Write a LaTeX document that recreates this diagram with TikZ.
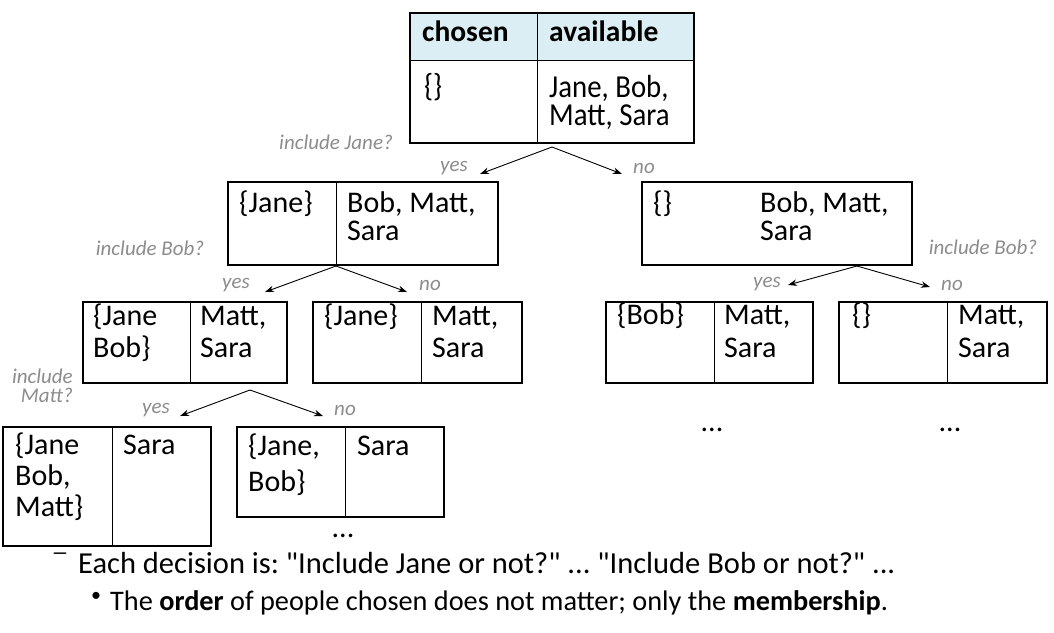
\documentclass[tikz,border=0pt]{standalone}
\usepackage{fontspec}
\setmainfont{Carlito}[Ligatures=TeXOff]
\newfontfamily\tallfont{Carlito}[FakeStretch=0.9,Ligatures=TeXOff]
\usetikzlibrary{arrows.meta}
\definecolor{headfill}{HTML}{DAEEF3}
\definecolor{lblgray}{HTML}{8C8C8C}
\begin{document}
\frenchspacing
\begin{tikzpicture}[x=1pt,y=-1pt,
  boxnode/.style={draw=black, line width=1.4pt, inner sep=0pt, outer sep=0pt, anchor=north west},
  divline/.style={line width=0.9pt},
  txt/.style={anchor=base west, inner sep=0pt, align=left, font=\fontsize{30}{28}\selectfont},
  txtb/.style={anchor=base west, inner sep=0pt, font=\bfseries\fontsize{29.5}{28}\selectfont},
  txttall/.style={anchor=base west, inner sep=0pt, align=left, font=\tallfont\fontsize{32}{28}\selectfont},
  lbl/.style={inner sep=0pt, text=lblgray, font=\itshape\fontsize{21}{19}\selectfont},
  conn/.style={line width=0.9pt, -{Stealth[length=9pt,width=6.5pt]}},
  dots/.style={inner sep=0pt, font=\fontsize{30}{30}\selectfont}]
\useasboundingbox (0,0) rectangle (1054,632);

% multi-line nodes are placed by the baseline of their LAST line

% ---------- top box ----------
\fill[headfill] (410,13) rectangle (694,60);
\node[boxnode, minimum width=284pt, minimum height=130pt] (T) at (410,13) {};
\draw[divline] (410,60) -- (694,60);
\draw[divline] (537,13) -- (537,143);
\node[txtb] (Th1) at (422,41) {chosen};
\node[txtb] (Th2) at (549,41) {available};
\node[txttall] (Tc) at (424,96) {\{\}};
\node[txttall] (Ta) at (549,125) {Jane, Bob,\\Matt, Sara};

% ---------- level 1 ----------
\node[boxnode, minimum width=270pt, minimum height=83pt] (A) at (228,182) {};
\draw[divline] (336,182) -- (336,265);
\node[txt] (Ac) at (239,212) {\{Jane\}};
\node[txt] (Aa) at (347,240) {Bob, Matt,\\Sara};

\node[boxnode, minimum width=270pt, minimum height=83pt] (B) at (642,182) {};
\node[txt] (Bc) at (653,212) {\{\}};
\node[txt] (Ba) at (760,240) {Bob, Matt,\\Sara};

% ---------- level 2 ----------
\node[boxnode, minimum width=204pt, minimum height=81pt] (C) at (83,302) {};
\draw[divline] (190,302) -- (190,383);
\node[txt, font=\fontsize{30}{32}\selectfont] (Cc) at (93,357) {\{Jane\\Bob\}};
\node[txt, font=\fontsize{30}{32}\selectfont] (Ca) at (200,357) {Matt,\\Sara};

\node[boxnode, minimum width=209pt, minimum height=81pt] (D) at (313,302) {};
\draw[divline] (421,302) -- (421,383);
\node[txt] (Dc) at (324,325) {\{Jane\}};
\node[txt, font=\fontsize{30}{32}\selectfont] (Da) at (432,357) {Matt,\\Sara};

\node[boxnode, minimum width=207pt, minimum height=81pt] (E) at (606,302) {};
\draw[divline] (714,302) -- (714,383);
\node[txt] (Ec) at (617,324) {\{Bob\}};
\node[txt, font=\fontsize{30}{33}\selectfont] (Ea) at (724,357) {Matt,\\Sara};

\node[boxnode, minimum width=208pt, minimum height=81pt] (F) at (839,302) {};
\draw[divline] (947,302) -- (947,383);
\node[txt] (Fc) at (852,324) {\{\}};
\node[txt, font=\fontsize{30}{33}\selectfont] (Fa) at (958,357) {Matt,\\Sara};

% ---------- level 3 ----------
\node[boxnode, minimum width=208pt, minimum height=119pt] (G) at (3,427) {};
\draw[divline] (112,427) -- (112,546);
\node[txt, font=\fontsize{30}{31}\selectfont] (Gc) at (15,516) {\{Jane\\Bob,\\Matt\}};
\node[txt] (Ga) at (123,454) {Sara};

\node[boxnode, minimum width=207pt, minimum height=90pt] (H) at (237,427) {};
\draw[divline] (345,427) -- (345,517);
\node[txt, font=\fontsize{30}{36}\selectfont] (Hc) at (248,491) {\{Jane,\\Bob\}};
\node[txt] (Ha) at (357,455) {Sara};

% ---------- connectors ----------
\coordinate (Tx) at (552,147);
\coordinate (Ty) at (480,174);
\coordinate (Tn) at (622,174);
\draw[conn] (Tx) -- (Ty);
\draw[conn] (Tx) -- (Tn);

\coordinate (Ax) at (336,266);
\coordinate (Ay) at (265,292);
\coordinate (An) at (407,292);
\draw[conn] (Ax) -- (Ay);
\draw[conn] (Ax) -- (An);

\coordinate (Bx) at (857,266);
\coordinate (By) at (788,285);
\coordinate (Bn) at (930,287);
\draw[conn] (Bx) -- (By);
\draw[conn] (Bx) -- (Bn);

\coordinate (Cx) at (250,390);
\coordinate (Cy) at (180,416);
\coordinate (Cn) at (323,416);
\draw[conn] (Cx) -- (Cy);
\draw[conn] (Cx) -- (Cn);

% ---------- labels ----------
\node[lbl] (q1) at (336,142) {include Jane?};
\node[lbl] (y1) at (454,168) {yes};
\node[lbl] (n1) at (644,168) {no};
\node[lbl] (q2) at (150,248) {include Bob?};
\node[lbl] (y2) at (236,285) {yes};
\node[lbl] (n2) at (430,285) {no};
\node[lbl] (q3) at (983,247) {include Bob?};
\node[lbl] (y3) at (767,284) {yes};
\node[lbl] (n3) at (952,285) {no};
\node[lbl, align=right, anchor=east] (q4) at (73,386) {include\\Matt?};
\node[lbl] (y4) at (156,410) {yes};
\node[lbl] (n4) at (345,410) {no};

% ---------- dots ----------
\node[dots] (d1) at (712,430) {...};
\node[dots] (d2) at (950,430) {...};
\node[dots] (d3) at (343,536) {...};

% ---------- bottom text ----------
\node[inner sep=0pt, font=\bfseries\fontsize{17}{17}\selectfont] (dash) at (60,556) {—};
\node[anchor=base west, inner sep=0pt, font=\fontsize{30.5}{31}\selectfont] (L1) at (78,573) {Each decision is: "Include Jane or not?" ... "Include Bob or not?" ...};
\node[inner sep=0pt, font=\fontsize{20}{20}\selectfont] (bul) at (96,597) {•};
\node[anchor=base west, inner sep=0pt, font=\fontsize{28.3}{28}\selectfont] (L2) at (110,610) {The \textbf{order} of people chosen does not matter; only the \textbf{membership}.};
\end{tikzpicture}
\end{document}
